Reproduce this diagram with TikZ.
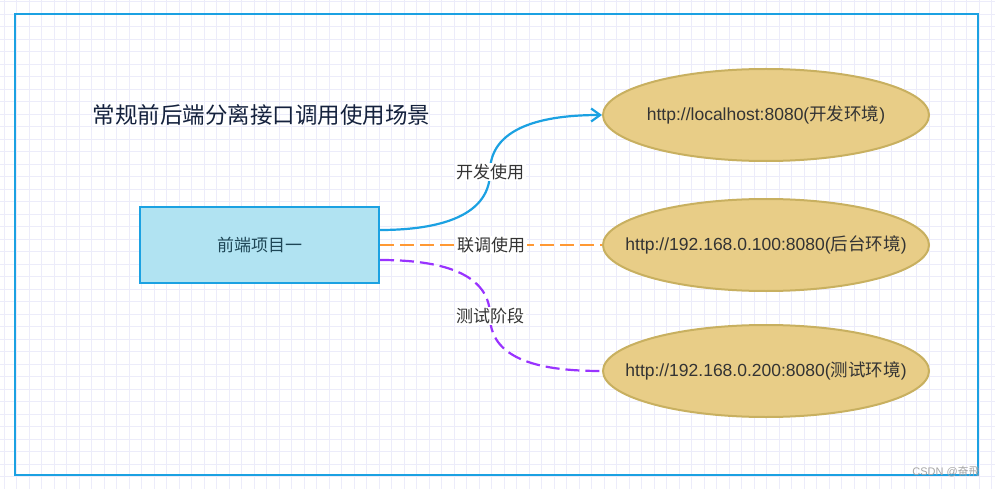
\documentclass[tikz,border=0pt]{standalone}
\usepackage{fontspec}
\setmainfont{Liberation Sans}
\newfontfamily\cjk{Noto Sans CJK SC}
\usetikzlibrary{arrows.meta,positioning,shapes.geometric}
\definecolor{frameblue}{HTML}{1BA1E2}
\definecolor{boxfill}{HTML}{B1E3F2}
\definecolor{boxtext}{HTML}{1E4656}
\definecolor{titlecol}{HTML}{14213D}
\definecolor{envfill}{HTML}{E8CD87}
\definecolor{envdraw}{HTML}{C8B060}
\definecolor{joinorange}{HTML}{FF9933}
\definecolor{testpurple}{HTML}{9933FF}
\definecolor{gridcol}{HTML}{ECECFA}
\definecolor{txt}{HTML}{333333}

\begin{document}
\begin{tikzpicture}[
    x=1pt, y=-1pt,
    gridline/.style={gridcol, line width=0.8pt},
    project/.style={draw=frameblue, line width=2pt, fill=boxfill, minimum width=239pt, minimum height=76pt, inner sep=0pt, text=boxtext, font=\cjk\fontsize{17}{20}\selectfont},
    env/.style={ellipse, draw=envdraw, line width=2pt, fill=envfill, minimum width=326pt, minimum height=92pt, inner xsep=-40pt, inner ysep=0pt, text=txt, font=\fontsize{17.5}{20}\selectfont},
    lbl/.style={fill=white, inner sep=1.5pt, text=txt, font=\cjk\fontsize{17}{20}\selectfont},
    dashline/.style={line width=2.2pt, dash pattern=on 14pt off 6pt}
]
\useasboundingbox (0,0) rectangle (995,489);
\fill[white] (0,0) rectangle (995,489);
\foreach \gx in {4.2,16.7,...,995} \draw[gridline] (\gx,0) -- (\gx,489);
\foreach \gy in {1.5,14,...,489} \draw[gridline] (0,\gy) -- (995,\gy);
\draw[frameblue, line width=2.5pt] (15,14) rectangle (978,475);

\node[anchor=west, text=titlecol, font=\cjk\fontsize{22.5}{27}\selectfont] (title) at (89,115) {常规前后端分离接口调用使用场景};
\node[project] (front) at (259.5,245) {前端项目一};
\node[env] (dev) at (766,115) {http://localhost:8080({\cjk 开发环境})};
\node[env] (joint) at (766,245) {http://192.168.0.100:8080({\cjk 后台环境})};
\node[env] (test) at (766,371) {http://192.168.0.200:8080({\cjk 测试环境})};
\node[text=gray!70, font=\fontsize{11}{13}\selectfont] (mark) at (946,472) {CSDN @{\cjk 奋飛}};

\draw[frameblue, line width=2.2pt, -{Straight Barb[length=9pt,width=13pt]}] ([yshift=15pt]front.east) to[out=0,in=-90] (490,172) node[lbl]{开发使用} to[out=90,in=180] (dev.west);
\draw[joinorange, dashline] (front.east) -- node[lbl]{联调使用} (joint.west);
\draw[testpurple, dashline] ([yshift=-15pt]front.east) to[out=0,in=90] (490,316) node[lbl]{测试阶段} to[out=-90,in=180] (test.west);
\end{tikzpicture}
\end{document}
